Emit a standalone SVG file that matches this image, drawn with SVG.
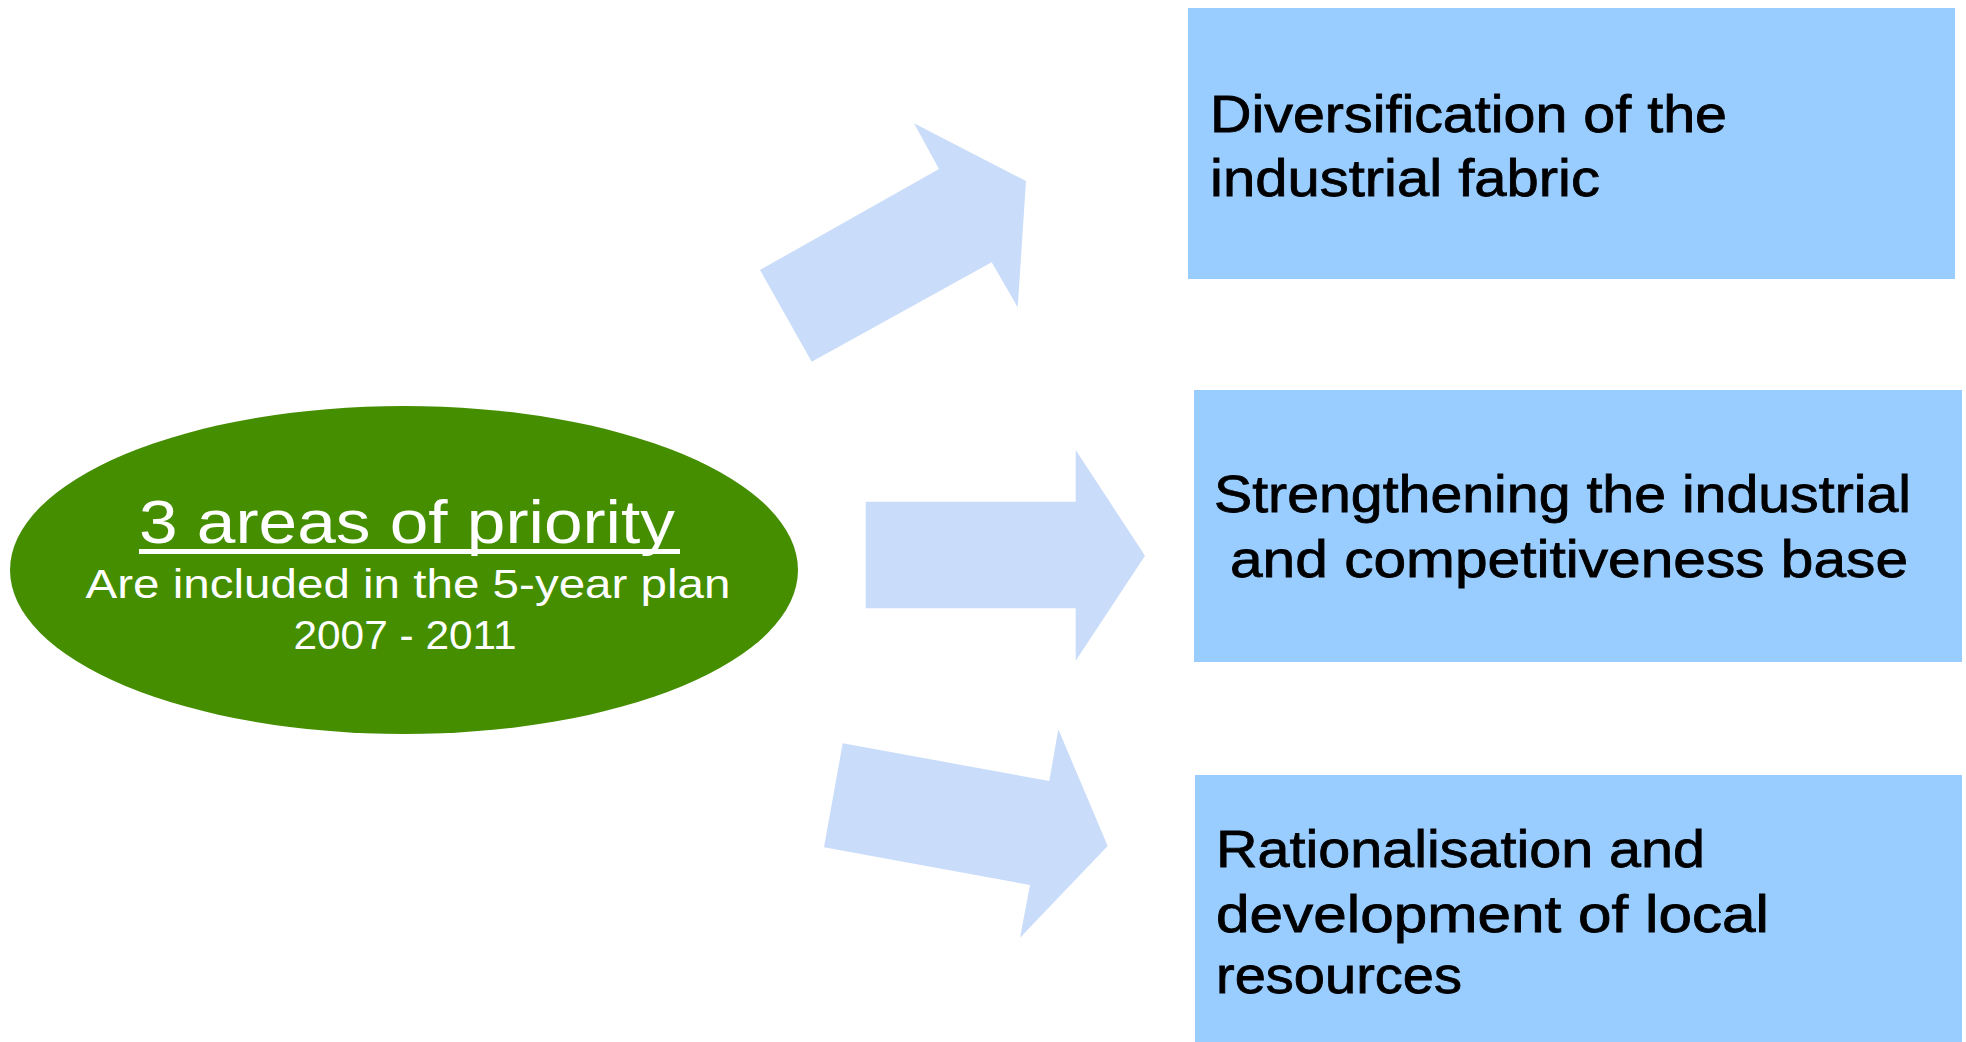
<svg xmlns="http://www.w3.org/2000/svg" width="1966" height="1042" viewBox="0 0 1966 1042">
<style>
.arrow{fill:#C9DCF9;stroke:none}
.box{fill:#99CCFF;stroke:none}
.bt{font-family:"Liberation Sans",Arial,sans-serif;font-size:52px;fill:#000000;stroke:#000000;stroke-width:0.8px}
.et{font-family:"Liberation Sans",Arial,sans-serif;fill:#FFFFFF;text-anchor:middle}
</style>
<rect x="0" y="0" width="1966" height="1042" fill="#FFFFFF"/>
<g id="connectors">
<polygon class="arrow" points="760,270 811.7,361.7 991.7,262.3 1017.7,307.3 1026,181 914,123.3 939,169"/>
<polygon class="arrow" points="865.7,501.7 1075.7,501.7 1075.7,450 1145,555.7 1075.7,660.7 1075.7,608.3 865.7,608.3"/>
<polygon class="arrow" points="842.7,743.3 1049.3,781 1058.3,729.3 1107.7,846 1020,937.7 1030,885 824,847.3"/>
</g>
<g id="center">
<ellipse cx="404" cy="570" rx="394" ry="164" fill="#448E00"/>
<text class="et" x="407" y="543" font-size="61" textLength="536" lengthAdjust="spacingAndGlyphs">3 areas of priority</text>
<rect x="139" y="549" width="541" height="5" fill="#FFFFFF"/>
<text class="et" x="408" y="598" font-size="40" textLength="645" lengthAdjust="spacingAndGlyphs">Are included in the 5-year plan</text>
<text class="et" x="405" y="649" font-size="40" textLength="223" lengthAdjust="spacingAndGlyphs">2007 - 2011</text>
</g>
<g id="box1">
<rect class="box" x="1188" y="8" width="767" height="271"/>
<text class="bt" x="1210" y="132" textLength="517" lengthAdjust="spacingAndGlyphs">Diversification of the</text>
<text class="bt" x="1210" y="196" textLength="390" lengthAdjust="spacingAndGlyphs">industrial fabric</text>
</g>
<g id="box2">
<rect class="box" x="1194" y="390" width="768" height="272"/>
<text class="bt" x="1214" y="512" textLength="697" lengthAdjust="spacingAndGlyphs">Strengthening the industrial</text>
<text class="bt" x="1230" y="577" textLength="678" lengthAdjust="spacingAndGlyphs">and competitiveness base</text>
</g>
<g id="box3">
<rect class="box" x="1195" y="775" width="767" height="267"/>
<text class="bt" x="1216" y="867" textLength="489" lengthAdjust="spacingAndGlyphs">Rationalisation and</text>
<text class="bt" x="1216" y="932" textLength="553" lengthAdjust="spacingAndGlyphs">development of local</text>
<text class="bt" x="1216" y="993" textLength="246" lengthAdjust="spacingAndGlyphs">resources</text>
</g>
</svg>
